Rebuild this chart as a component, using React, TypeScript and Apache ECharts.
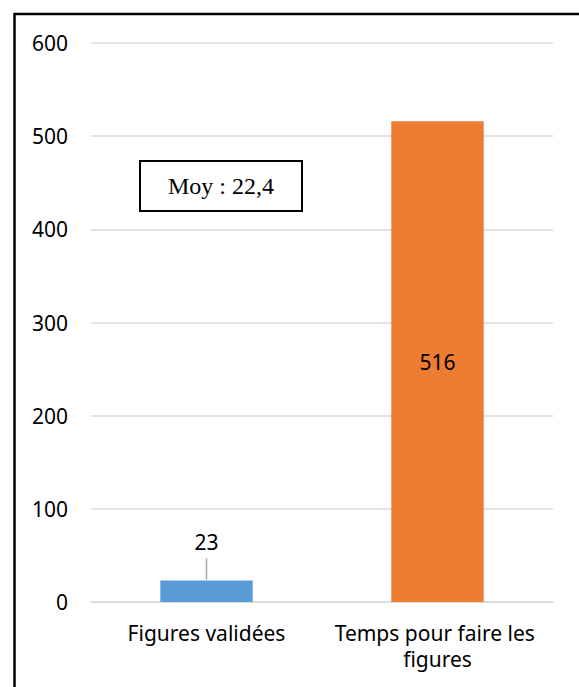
import React, { useEffect, useRef } from "react";
import * as echarts from "echarts";

const categories = ["Figures validées", "Temps pour faire les figures"];
const values = [23, 516];
const barColors = ["#5b9bd5", "#ed7d31"];
const yTicks = { min: 0, max: 600, interval: 100 };
const noteText = "Moy : 22,4";

export default function App() {
  const ref = useRef<HTMLDivElement>(null);
  useEffect(() => {
    if (!ref.current) return;
    const chart = echarts.init(ref.current, null, { renderer: "svg" });
    const font = "'Noto Sans', sans-serif";
    const data = values.map((v, i) => ({
      value: v,
      itemStyle: { color: barColors[i] },
      label:
        i === 0
          ? {
              show: true,
              position: "top",
              distance: 1,
              formatter: "{v|{c}}\n{l|}",
              rich: {
                v: { fontSize: 21, lineHeight: 34, fontFamily: font, color: "#000" },
                l: { width: 1.5, height: 21, backgroundColor: "#a6a6a6" },
              },
            }
          : {
              show: true,
              position: "inside",
              fontSize: 21,
              fontFamily: font,
              color: "#000",
            },
    }));
    chart.setOption({
      animation: false,
      backgroundColor: "#fff",
      grid: { left: 91, right: 26, top: 43, bottom: 85, containLabel: false },
      xAxis: {
        type: "category",
        data: categories,
        axisTick: { show: false },
        axisLine: { show: true, lineStyle: { color: "#d9d9d9", width: 1.5 } },
        axisLabel: {
          fontSize: 21,
          fontFamily: font,
          color: "#000",
          margin: 18,
          lineHeight: 26,
          width: 215,
          overflow: "break",
          interval: 0,
        },
      },
      yAxis: {
        type: "value",
        min: yTicks.min,
        max: yTicks.max,
        interval: yTicks.interval,
        axisLine: { show: false },
        axisTick: { show: false },
        splitLine: { lineStyle: { color: "#d9d9d9", width: 1.5 } },
        axisLabel: { fontSize: 21, fontFamily: font, color: "#000", margin: 23 },
      },
      series: [
        {
          type: "bar",
          data,
          barWidth: "40%",
        },
      ],
      graphic: [
        {
          type: "line",
          shape: { x1: 14, y1: 14, x2: 579, y2: 14 },
          style: { stroke: "#000", lineWidth: 2.5 },
        },
        {
          type: "line",
          shape: { x1: 14.5, y1: 13, x2: 14.5, y2: 687 },
          style: { stroke: "#000", lineWidth: 2.5 },
        },
        {
          type: "rect",
          shape: { x: 140, y: 161, width: 162, height: 50 },
          style: { fill: "#fff", stroke: "#000", lineWidth: 2 },
        },
        {
          type: "text",
          x: 221,
          y: 186,
          style: {
            text: noteText,
            fontSize: 24,
            fontFamily: "'Liberation Serif', 'Times New Roman', serif",
            fill: "#000",
            align: "center",
            verticalAlign: "middle",
          },
        },
      ],
    });
    return () => chart.dispose();
  }, []);
  return (
    <div
      ref={ref}
      style={{ position: "fixed", left: 0, top: 0, width: 579, height: 687 }}
    />
  );
}
